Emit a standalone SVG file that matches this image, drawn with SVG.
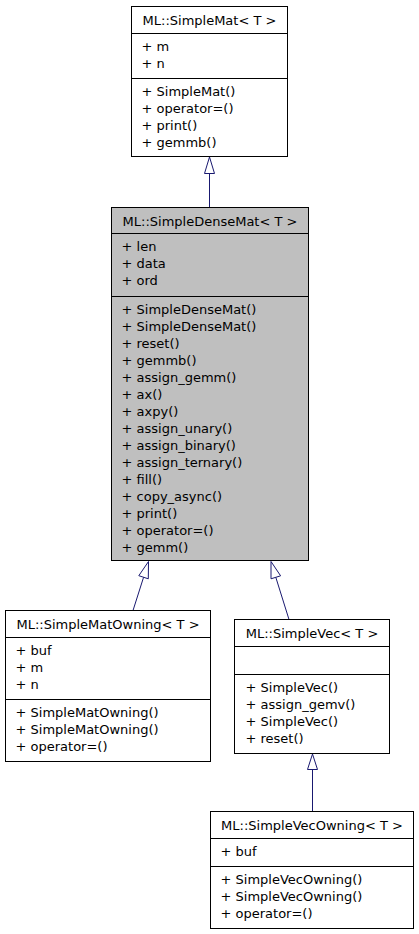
<svg xmlns="http://www.w3.org/2000/svg" width="419" height="934" viewBox="0 0 419 934">
<style>
.box{fill:#ffffff;stroke:#000000;stroke-width:1}
.cur{fill:#bfbfbf}
.div{stroke:#000000;stroke-width:1}
text{font-family:"DejaVu Sans","Liberation Sans",sans-serif;font-size:13px;fill:#000000}
.t{text-anchor:middle}
.edge{stroke:#191970;stroke-width:1;fill:none}
.head{stroke:#191970;stroke-width:1;fill:#ffffff}
</style>
<rect x="0" y="0" width="419" height="934" fill="#ffffff"/>
<g id="connectors">
  <line class="edge" x1="209.5" y1="173.5" x2="209.5" y2="207.5"/>
  <polygon class="head" points="209.5,157 204.5,173.5 214.5,173.5"/>
  <line class="edge" x1="133" y1="610.5" x2="143.6" y2="577.2"/>
  <polygon class="head" points="148.5,561.5 148.3,578.8 138.8,575.7"/>
  <line class="edge" x1="289" y1="619.5" x2="275.8" y2="577.3"/>
  <polygon class="head" points="271,561.5 280.6,575.8 271,578.8"/>
  <line class="edge" x1="312.5" y1="769.5" x2="312.5" y2="811.5"/>
  <polygon class="head" points="312.5,754 307.5,769.5 317.5,769.5"/>
</g>
<g id="SimpleMat">
  <rect class="box" x="131.5" y="6.5" width="156" height="150"/>
  <line class="div" x1="131.5" y1="33.5" x2="287.5" y2="33.5"/>
  <line class="div" x1="131.5" y1="78.5" x2="287.5" y2="78.5"/>
  <text class="t" x="209.5" y="24.5">ML::SimpleMat&lt; T &gt;</text>
  <text x="141.5" y="51">+ m</text>
  <text x="141.5" y="68">+ n</text>
  <text x="141.5" y="96">+ SimpleMat()</text>
  <text x="141.5" y="113">+ operator=()</text>
  <text x="141.5" y="130">+ print()</text>
  <text x="141.5" y="147">+ gemmb()</text>
</g>
<g id="SimpleDenseMat">
  <rect class="box cur" x="111.5" y="207.5" width="197" height="353"/>
  <line class="div" x1="111.5" y1="233.5" x2="308.5" y2="233.5"/>
  <line class="div" x1="111.5" y1="296.5" x2="308.5" y2="296.5"/>
  <text class="t" x="210" y="225.5">ML::SimpleDenseMat&lt; T &gt;</text>
  <text x="121.5" y="251">+ len</text>
  <text x="121.5" y="268">+ data</text>
  <text x="121.5" y="285">+ ord</text>
  <text x="121.5" y="314">+ SimpleDenseMat()</text>
  <text x="121.5" y="331">+ SimpleDenseMat()</text>
  <text x="121.5" y="348">+ reset()</text>
  <text x="121.5" y="365">+ gemmb()</text>
  <text x="121.5" y="382">+ assign_gemm()</text>
  <text x="121.5" y="399">+ ax()</text>
  <text x="121.5" y="416">+ axpy()</text>
  <text x="121.5" y="433">+ assign_unary()</text>
  <text x="121.5" y="450">+ assign_binary()</text>
  <text x="121.5" y="467">+ assign_ternary()</text>
  <text x="121.5" y="484">+ fill()</text>
  <text x="121.5" y="501">+ copy_async()</text>
  <text x="121.5" y="518">+ print()</text>
  <text x="121.5" y="535">+ operator=()</text>
  <text x="121.5" y="552">+ gemm()</text>
</g>
<g id="SimpleMatOwning">
  <rect class="box" x="5.5" y="610.5" width="205" height="151"/>
  <line class="div" x1="5.5" y1="637.5" x2="210.5" y2="637.5"/>
  <line class="div" x1="5.5" y1="699.5" x2="210.5" y2="699.5"/>
  <text class="t" x="108" y="628.5">ML::SimpleMatOwning&lt; T &gt;</text>
  <text x="15.5" y="655">+ buf</text>
  <text x="15.5" y="672">+ m</text>
  <text x="15.5" y="689">+ n</text>
  <text x="15.5" y="717">+ SimpleMatOwning()</text>
  <text x="15.5" y="734">+ SimpleMatOwning()</text>
  <text x="15.5" y="751">+ operator=()</text>
</g>
<g id="SimpleVec">
  <rect class="box" x="234.5" y="619.5" width="155" height="134"/>
  <line class="div" x1="234.5" y1="646.5" x2="389.5" y2="646.5"/>
  <line class="div" x1="234.5" y1="674.5" x2="389.5" y2="674.5"/>
  <text class="t" x="312" y="637.5">ML::SimpleVec&lt; T &gt;</text>
  <text x="245.5" y="692">+ SimpleVec()</text>
  <text x="245.5" y="709">+ assign_gemv()</text>
  <text x="245.5" y="726">+ SimpleVec()</text>
  <text x="245.5" y="743">+ reset()</text>
</g>
<g id="SimpleVecOwning">
  <rect class="box" x="210.5" y="811.5" width="203" height="117"/>
  <line class="div" x1="210.5" y1="838.5" x2="413.5" y2="838.5"/>
  <line class="div" x1="210.5" y1="866.5" x2="413.5" y2="866.5"/>
  <text class="t" x="312" y="829.5">ML::SimpleVecOwning&lt; T &gt;</text>
  <text x="220.5" y="856">+ buf</text>
  <text x="220.5" y="884">+ SimpleVecOwning()</text>
  <text x="220.5" y="901">+ SimpleVecOwning()</text>
  <text x="220.5" y="918">+ operator=()</text>
</g>
</svg>
